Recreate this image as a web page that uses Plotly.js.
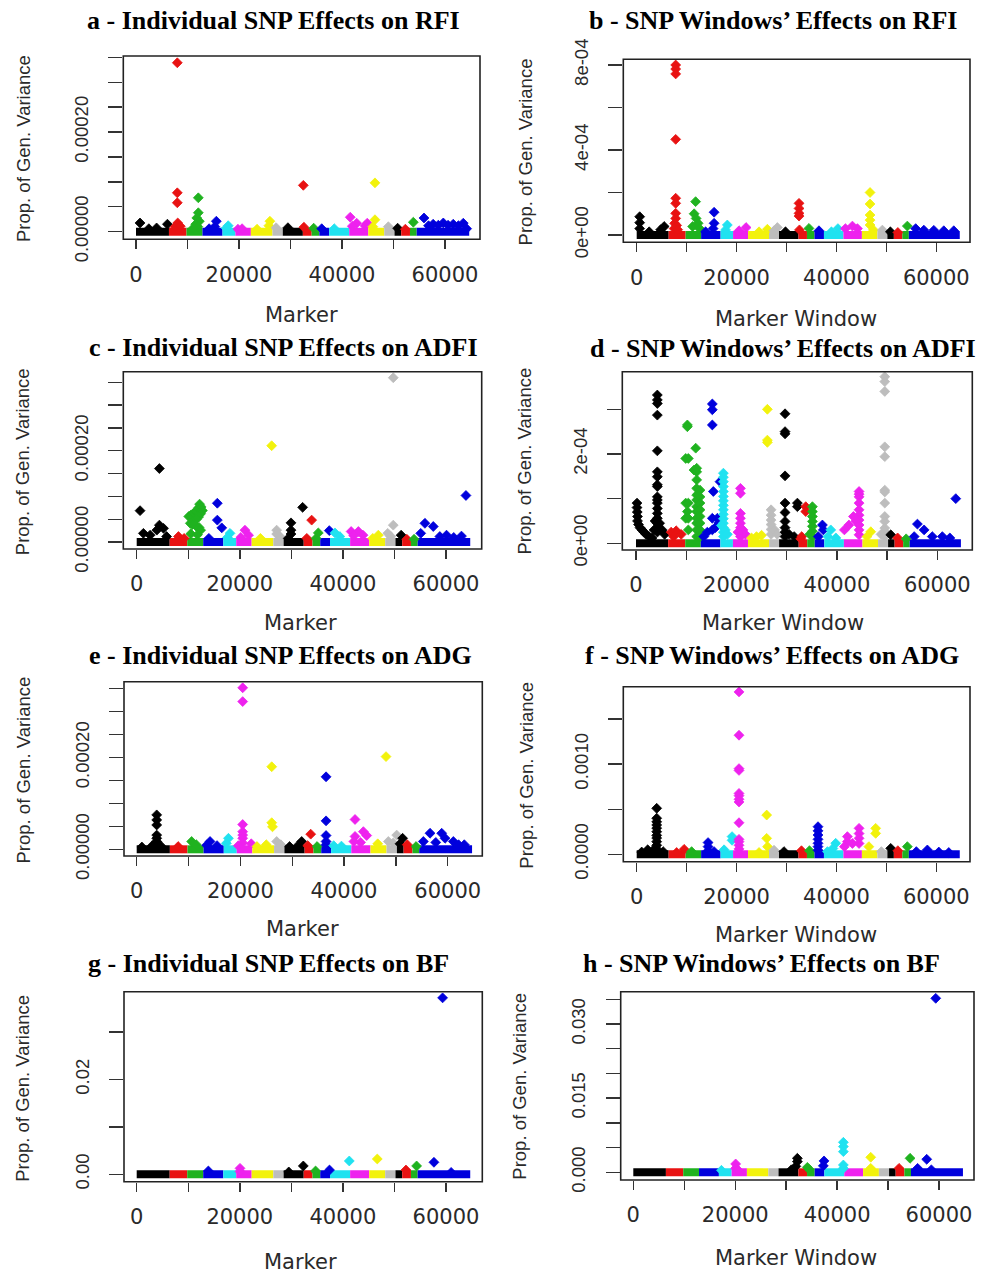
<!DOCTYPE html>
<html><head><meta charset="utf-8">
<script src="https://cdn.plot.ly/plotly-3.0.1.min.js"></script>
<style>html,body{margin:0;padding:0;background:#fff}#chart{width:988px;height:1273px}</style>
</head><body><div id="chart"></div>
<script>
// Chromosome boundaries (marker index) and R-style colour cycle
const chrEdges = [0, 6400, 9800, 12900, 16800, 19300, 22300, 26500, 28500, 32400, 34100, 35600, 37500, 41400, 45100, 48200, 50200, 51500, 53200, 54500, 64700];
const palette = ['#000000', '#E81212', '#1FB21F', '#0000DC', '#20E2F0', '#EE22EE', '#F2F20C', '#BDBDBD'];

// Tick values / labels
const xTickVals = [0, 10000, 20000, 30000, 40000, 50000, 60000];
const xTickText = ['0', '', '20000', '', '40000', '', '60000'];
const indivTickVals = [0, 5e-5, 1e-4, 1.5e-4, 2e-4, 2.5e-4, 3e-4, 3.5e-4];
const indivTickText = ['0.00000', '', '', '', '0.00020', '', '', ''];
const bTickVals = [0, 2e-4, 4e-4, 6e-4, 8e-4];
const bTickText = ['0e+00', '', '4e-04', '', '8e-04'];
const dTickVals = [0, 1e-4, 2e-4, 3e-4];
const dTickText = ['0e+00', '', '2e-04', ''];
const fTickVals = [0, 5e-4, 1e-3, 1.5e-3];
const fTickText = ['0.0000', '', '0.0010', ''];
const gTickVals = [0, 0.01, 0.02, 0.03];
const gTickText = ['0.00', '', '0.02', ''];
const hTickVals = [0, 0.005, 0.01, 0.015, 0.02, 0.025, 0.03, 0.035];
const hTickText = ['0.000', '', '', '0.015', '', '', '0.030', ''];

const titles = ['a - Individual SNP Effects on RFI', 'b - SNP Windows\u2019 Effects on RFI',
  'c - Individual SNP Effects on ADFI', 'd - SNP Windows\u2019 Effects on ADFI',
  'e - Individual SNP Effects on ADG', 'f - SNP Windows\u2019 Effects on ADG',
  'g - Individual SNP Effects on BF', 'h - SNP Windows\u2019 Effects on BF'];
const xTitles = ['Marker', 'Marker Window', 'Marker', 'Marker Window', 'Marker', 'Marker Window', 'Marker', 'Marker Window'];
const yTitle = 'Prop. of Gen. Variance';

// Elevated points [marker, proportion of genetic variance]; the rest lie on the ~0 baseline
const aPts = [[780,1.75e-5],[2500,0.6e-5],[4000,0.75e-5],[6100,1.5e-5],
 [8020,33.9e-5],[8020,7.8e-5],[8020,5.8e-5],[8100,1.75e-5],[7600,1.0e-5],[8600,1.1e-5],
 [12100,6.8e-5],[12100,3.8e-5],[11800,2.75e-5],[12300,2.1e-5],[11600,1.5e-5],[12000,1.0e-5],[11200,0.8e-5],
 [15600,2.1e-5],[15300,1.0e-5],[14200,0.6e-5],[17900,1.2e-5],[17500,0.7e-5],[19800,0.5e-5],[20600,0.6e-5],
 [26000,2.1e-5],[25800,1.2e-5],[23500,0.5e-5],[27200,0.8e-5],[29500,0.8e-5],[32490,9.3e-5],[32600,0.9e-5],
 [34500,0.7e-5],[36060,0.6e-5],[38500,0.6e-5],[41600,2.9e-5],[42850,1.7e-5],[42000,1.1e-5],[44470,1.2e-5],[44900,1.7e-5],
 [46400,9.8e-5],[46400,2.4e-5],[46000,1.0e-5],[49000,1.0e-5],[50800,0.7e-5],[52300,0.5e-5],[53850,1.9e-5],
 [55920,2.75e-5],[56800,1.2e-5],[57700,1.5e-5],[58700,1.3e-5],[59670,1.75e-5],[60600,1.3e-5],[61600,1.5e-5],[62600,1.2e-5],[63550,1.7e-5],[64200,0.6e-5]];

const bPts = [[600,0.86e-4],[600,0.58e-4],[600,0.3e-4],[2500,0.15e-4],[4800,0.25e-4],[5500,0.4e-4],
 [7810,8.0e-4],[7810,7.81e-4],[7810,7.58e-4],[7810,4.5e-4],[7810,1.73e-4],[7810,1.49e-4],[7810,1.02e-4],[7810,0.78e-4],[7600,0.55e-4],[8000,0.45e-4],[7500,0.3e-4],[8200,0.25e-4],
 [11800,1.57e-4],[11500,1.0e-4],[11900,0.78e-4],[12300,0.55e-4],[11200,0.4e-4],[12600,0.3e-4],
 [15500,1.07e-4],[15500,0.55e-4],[15300,0.3e-4],[13800,0.15e-4],[18150,0.47e-4],[17800,0.24e-4],
 [21900,0.35e-4],[20500,0.2e-4],[26170,0.27e-4],[24500,0.15e-4],[28170,0.35e-4],[27500,0.2e-4],[29800,0.15e-4],
 [32510,1.49e-4],[32510,1.25e-4],[32510,1.02e-4],[32510,0.89e-4],[32600,0.24e-4],[34500,0.31e-4],[36500,0.2e-4],
 [40300,0.3e-4],[39000,0.15e-4],[43200,0.42e-4],[41800,0.3e-4],[44200,0.3e-4],
 [46730,2.0e-4],[46730,1.46e-4],[46730,0.94e-4],[46730,0.7e-4],[46730,0.47e-4],[47400,0.24e-4],
 [49200,0.23e-4],[50800,0.15e-4],[52300,0.12e-4],[54200,0.42e-4],
 [55870,0.3e-4],[57500,0.23e-4],[59500,0.22e-4],[61500,0.2e-4],[63500,0.2e-4]];

const cPts = [[650,6.87e-5],[4400,16.1e-5],[4400,3.7e-5],[5200,3.0e-5],[3900,2.6e-5],[1300,1.9e-5],[2600,1.5e-5],[5800,1.2e-5],
 [8100,1.2e-5],[9200,0.8e-5],
 [10100,5.6e-5],[10500,5.9e-5],[11000,6.3e-5],[11500,6.7e-5],[12000,7.5e-5],[12200,8.3e-5],[12500,7.7e-5],[12750,6.9e-5],[12400,6.2e-5],[12000,5.5e-5],[11600,5.0e-5],[10900,4.4e-5],[10400,4.1e-5],[10800,3.8e-5],[11500,3.5e-5],[12100,3.2e-5],[12400,2.6e-5],[10500,1.8e-5],[11800,1.6e-5],
 [15640,8.5e-5],[15640,4.8e-5],[16500,3.1e-5],[14000,0.8e-5],[18100,1.9e-5],[17600,1.0e-5],
 [21000,2.6e-5],[21700,1.5e-5],[20200,1.0e-5],[26180,21.1e-5],[24000,0.8e-5],
 [27150,2.6e-5],[27150,1.75e-5],[27800,1.2e-5],
 [29930,4.2e-5],[29930,2.6e-5],[29930,1.75e-5],[29400,0.8e-5],[32190,7.6e-5],
 [33940,4.8e-5],[33000,0.8e-5],[35230,2.0e-5],[34800,0.8e-5],[37360,2.5e-5],[38460,2.0e-5],[39400,1.2e-5],
 [41600,2.3e-5],[43000,2.3e-5],[43900,1.5e-5],[42100,1.4e-5],[46870,1.5e-5],[45800,0.8e-5],
 [49770,36.0e-5],[49770,3.7e-5],[48700,1.9e-5],[49300,1.2e-5],[51300,1.5e-5],[52400,0.6e-5],[53800,0.6e-5],
 [55910,4.1e-5],[57530,3.4e-5],[55100,1.9e-5],[58800,1.2e-5],[60100,1.5e-5],[61500,1.0e-5],[63000,1.3e-5],[63870,10.2e-5]];

const dPts = [[200,0.9e-4],[200,0.8e-4],[250,0.7e-4],[300,0.6e-4],[300,0.5e-4],[500,0.42e-4],[800,0.35e-4],[1200,0.3e-4],[1600,0.25e-4],[2000,0.2e-4],[2600,0.15e-4],[3200,0.12e-4],
 [4250,3.32e-4],[4250,3.21e-4],[4250,3.13e-4],[4250,2.87e-4],[4250,2.07e-4],[4250,1.6e-4],[4250,1.49e-4],[4250,1.31e-4],[4250,1.27e-4],[4250,1.04e-4],[4250,0.97e-4],[4250,0.9e-4],[4250,0.78e-4],[4250,0.67e-4],[4250,0.56e-4],[4250,0.45e-4],[4250,0.35e-4],[4250,0.25e-4],
 [3800,0.5e-4],[3600,0.3e-4],[4700,0.45e-4],[5200,0.3e-4],[5700,0.2e-4],
 [7000,0.25e-4],[8000,0.28e-4],[9000,0.2e-4],[7500,0.15e-4],
 [10230,2.65e-4],[10230,2.61e-4],[9900,1.9e-4],[9900,0.9e-4],[10230,0.71e-4],[9900,0.56e-4],
 [10420,1.9e-4],[10420,0.9e-4],[10420,0.56e-4],[10420,0.3e-4],
 [11890,2.13e-4],[11550,1.64e-4],[12085,1.68e-4],[12085,1.6e-4],[12085,1.42e-4],[12085,1.23e-4],[12085,1.08e-4],[12085,0.97e-4],[12085,0.82e-4],[12085,0.71e-4],[12085,0.56e-4],[12085,0.45e-4],[12085,0.3e-4],[12085,0.15e-4],
 [12750,1.19e-4],[12750,1.04e-4],[12750,0.9e-4],[12750,0.75e-4],[12750,0.6e-4],[12750,0.45e-4],[12750,0.3e-4],[12750,0.15e-4],
 [15200,3.12e-4],[15200,2.99e-4],[15200,2.65e-4],[15400,1.16e-4],[15200,0.56e-4],[15200,0.3e-4],[16730,1.38e-4],[16200,0.56e-4],[16500,0.45e-4],[14200,0.25e-4],[13500,0.15e-4],[15800,0.35e-4],
 [17400,1.57e-4],[17400,1.48e-4],[17400,1.38e-4],[17400,1.27e-4],[17400,1.16e-4],[17400,1.05e-4],[17400,0.95e-4],[17400,0.85e-4],[17400,0.75e-4],[17400,0.65e-4],[17400,0.55e-4],[17400,0.45e-4],[17400,0.35e-4],[17400,0.25e-4],[17400,0.15e-4],[17800,0.3e-4],[18200,0.2e-4],[17000,0.4e-4],
 [20800,1.23e-4],[20800,1.12e-4],[20800,0.67e-4],[20800,0.56e-4],[20800,0.45e-4],[20800,0.35e-4],[20800,0.25e-4],[20800,0.15e-4],[21300,0.3e-4],[21800,0.2e-4],[20300,0.25e-4],
 [26160,3.0e-4],[26160,2.31e-4],[26160,2.26e-4],[24000,0.15e-4],[25000,0.18e-4],[23000,0.12e-4],
 [26900,0.75e-4],[26900,0.63e-4],[26900,0.52e-4],[26900,0.42e-4],[26900,0.31e-4],[26900,0.2e-4],[27600,0.3e-4],[28100,0.2e-4],
 [29680,2.9e-4],[29680,2.5e-4],[29680,2.45e-4],[29680,1.51e-4],[29680,0.9e-4],[29680,0.69e-4],[29680,0.49e-4],[29680,0.35e-4],[29680,0.25e-4],[29680,0.15e-4],[32140,0.9e-4],[32140,0.82e-4],[30500,0.2e-4],[31500,0.15e-4],
 [33800,0.82e-4],[33800,0.71e-4],[33000,0.15e-4],[32800,0.1e-4],
 [35130,0.82e-4],[35130,0.71e-4],[35130,0.6e-4],[35130,0.49e-4],[35130,0.38e-4],[35130,0.27e-4],[35130,0.15e-4],[34600,0.2e-4],
 [37120,0.41e-4],[37300,0.3e-4],[36300,0.15e-4],[38780,0.3e-4],[38200,0.15e-4],[39800,0.12e-4],
 [44420,1.16e-4],[44420,1.1e-4],[44420,1.04e-4],[44420,0.9e-4],[44420,0.75e-4],[44420,0.63e-4],[44420,0.52e-4],[44420,0.41e-4],[44420,0.3e-4],[44420,0.19e-4],[43300,0.6e-4],[42400,0.41e-4],[41500,0.3e-4],[43800,0.5e-4],
 [46750,0.26e-4],[46000,0.15e-4],
 [49540,3.73e-4],[49540,3.62e-4],[49540,3.4e-4],[49540,2.16e-4],[49540,1.94e-4],[49540,1.19e-4],[49540,1.15e-4],[49540,0.9e-4],[49540,0.6e-4],[49540,0.49e-4],[49540,0.34e-4],[49540,0.26e-4],[49540,0.15e-4],[48800,0.2e-4],
 [50730,0.19e-4],[52100,0.12e-4],[53800,0.1e-4],
 [56040,0.43e-4],[57370,0.3e-4],[55400,0.15e-4],[59000,0.15e-4],[61000,0.15e-4],[62500,0.12e-4],[63680,1.0e-4]];

const ePts = [[3860,7.5e-5],[3860,6.4e-5],[3860,5.3e-5],[3860,3.1e-5],[3860,2.4e-5],[3860,1.7e-5],[3860,1.0e-5],[3000,0.8e-5],[4600,0.8e-5],[1000,0.5e-5],
 [8000,0.6e-5],[10600,1.7e-5],[11500,1.0e-5],[14150,1.7e-5],[13500,0.9e-5],[15500,0.8e-5],[17700,2.4e-5],[17300,1.3e-5],
 [20450,35.2e-5],[20450,32.2e-5],[20450,5.4e-5],[20450,3.85e-5],[20450,3.1e-5],[20450,2.4e-5],[20450,1.4e-5],[22100,1.2e-5],[19600,0.8e-5],
 [26050,18.0e-5],[26050,5.8e-5],[26200,4.9e-5],[25000,1.0e-5],[23200,0.6e-5],[27010,1.7e-5],[27800,1.0e-5],
 [29500,0.6e-5],[31830,1.7e-5],[31200,0.9e-5],[33570,3.3e-5],[33000,0.8e-5],[34800,0.6e-5],
 [36530,15.8e-5],[36530,6.2e-5],[36530,3.0e-5],[36530,1.7e-5],[36530,1.0e-5],[38000,0.8e-5],[39500,0.7e-5],
 [42120,6.5e-5],[42120,2.8e-5],[43730,3.85e-5],[44370,3.0e-5],[43200,1.5e-5],[41900,1.7e-5],
 [48100,20.2e-5],[46500,1.2e-5],[48550,1.7e-5],[50160,3.1e-5],[49500,1.4e-5],[51300,2.4e-5],[50800,1.2e-5],[52200,1.0e-5],[53900,0.6e-5],
 [56590,3.5e-5],[58840,3.5e-5],[59490,2.4e-5],[55300,1.7e-5],[61090,1.7e-5],[63200,1.0e-5],[57700,1.5e-5],[62100,1.0e-5]];

const fPts = [[4005,5.1e-4],[4005,4.0e-4],[4005,3.6e-4],[4005,3.25e-4],[4005,2.9e-4],[4005,2.5e-4],[4005,2.1e-4],[4005,1.8e-4],[4005,1.4e-4],[4005,1.0e-4],[4005,0.6e-4],[2200,0.5e-4],[3200,0.4e-4],[5300,0.3e-4],[1000,0.25e-4],
 [9500,0.55e-4],[8000,0.2e-4],[11000,0.3e-4],[14290,1.3e-4],[14290,0.85e-4],[14290,0.4e-4],[15500,0.3e-4],
 [17500,0.5e-4],[19100,1.96e-4],[19100,1.55e-4],
 [20490,18.0e-4],[20490,13.2e-4],[20490,9.5e-4],[20490,9.3e-4],[20490,6.75e-4],[20490,6.5e-4],[20490,6.1e-4],[20490,5.8e-4],[20490,3.5e-4],[20490,1.66e-4],[20490,1.4e-4],[20490,1.0e-4],[20490,0.6e-4],
 [26030,4.35e-4],[26030,1.77e-4],[26200,0.85e-4],[24500,0.2e-4],[27500,0.45e-4],[29500,0.3e-4],[33000,0.4e-4],[34600,0.4e-4],
 [36310,3.06e-4],[36310,2.6e-4],[36310,2.14e-4],[36310,1.66e-4],[36310,1.22e-4],[36310,0.85e-4],[36310,0.45e-4],
 [39850,1.22e-4],[39300,0.65e-4],[38200,0.3e-4],
 [44530,2.88e-4],[44530,2.3e-4],[44530,1.77e-4],[44530,1.2e-4],[42190,1.96e-4],[42190,1.4e-4],[43200,1.2e-4],[41600,0.85e-4],
 [47860,2.88e-4],[47860,2.32e-4],[46500,0.85e-4],[49000,0.3e-4],[50870,0.66e-4],[52300,0.4e-4],[54200,0.85e-4],
 [58210,0.48e-4],[56000,0.3e-4],[60500,0.25e-4],[62500,0.2e-4]];

const gPts = [[13900,0.7e-3],[20040,1.26e-3],[20040,0.6e-3],[29500,0.5e-3],[32320,1.76e-3],[34700,0.7e-3],[37400,0.9e-3],
 [41240,2.81e-3],[46670,3.23e-3],[52230,0.9e-3],[54300,1.76e-3],[57660,2.53e-3],[59340,37.2e-3],[61000,0.4e-3]];

const hPts = [[17300,0.4e-3],[20090,1.69e-3],[20090,0.81e-3],[20600,0.4e-3],[32200,2.83e-3],[32200,2.16e-3],[31900,1.2e-3],[31000,0.5e-3],
 [34160,1.0e-3],[34500,0.6e-3],[37430,2.3e-3],[37300,1.3e-3],
 [41230,6.07e-3],[41230,5.2e-3],[41230,4.18e-3],[41230,1.48e-3],[41230,0.8e-3],
 [46600,3.04e-3],[46600,0.8e-3],[52160,0.8e-3],[54320,2.83e-3],[55800,0.8e-3],[57590,2.63e-3],[58500,0.5e-3],[59360,35.2e-3]];

// ---------- layout (pixel geometry of each panel) ----------
const W = 988, H = 1273;
const panels = [
  {pts: aPts, box: [123.3, 480, 56, 239.3], xr: [-2466, 66796], yr: [-1.53e-5, 3.526e-4], tv: indivTickVals, tt: indivTickText,
   title: [273.5, 21], xt: [301, 315], yt: [23, 149]},
  {pts: bPts, box: [623.3, 970, 59.3, 242.3], xr: [-2684, 66749], yr: [-3.44e-5, 8.268e-4], tv: bTickVals, tt: bTickText,
   title: [773, 21], xt: [795.7, 319.3], yt: [525.7, 151.7]},
  {pts: cPts, box: [123.3, 481.7, 371.7, 549], xr: [-2599, 66925], yr: [-1.53e-5, 3.732e-4], tv: indivTickVals, tt: indivTickText,
   title: [283, 347], xt: [300.8, 623.3], yt: [22.5, 461.7]},
  {pts: dPts, box: [622.3, 972.3, 371.7, 550], xr: [-2728, 66969], yr: [-1.5e-5, 3.842e-4], tv: dTickVals, tt: dTickText,
   title: [783, 348], xt: [783.2, 623.3], yt: [524.8, 460.8]},
  {pts: ePts, box: [124, 482.3, 681.7, 856], xr: [-2450, 66675], yr: [-1.46e-5, 3.653e-4], tv: indivTickVals, tt: indivTickText,
   title: [280, 655], xt: [302.5, 929.3], yt: [22.5, 770]},
  {pts: fPts, box: [623.3, 970, 686.7, 861.7], xr: [-2684, 66749], yr: [-8.2e-5, 1.858e-3], tv: fTickVals, tt: fTickText,
   title: [772, 655], xt: [795.7, 935], yt: [525.7, 775]},
  {pts: gPts, box: [124, 482.3, 991.7, 1181.7], xr: [-2464, 67042], yr: [-1.56e-3, 3.85e-2], tv: gTickVals, tt: gTickText,
   title: [268, 963], xt: [300.8, 1261.7], yt: [22.5, 1088.3]},
  {pts: hPts, box: [620.7, 974, 991.7, 1180], xr: [-2473, 66869], yr: [-1.56e-3, 3.654e-2], tv: hTickVals, tt: hTickText,
   title: [761, 963], xt: [795.7, 1258.3], yt: [520, 1086.7]}
];

function chrIndex(x) {
  for (let i = 0; i < chrEdges.length - 1; i++) if (x < chrEdges[i + 1]) return i;
  return chrEdges.length - 2;
}

const txtColor = '#2a2a2a';
const traces = [];
const layout = {
  width: W, height: H, margin: {l: 0, r: 0, t: 0, b: 0},
  paper_bgcolor: '#fff', plot_bgcolor: '#fff', showlegend: false,
  shapes: [], annotations: []
};

panels.forEach((p, k) => {
  const s = k === 0 ? '' : String(k + 1);
  const xa = 'x' + s, ya = 'y' + s;
  // baseline bands (dense near-zero markers) per chromosome
  for (let i = 0; i < chrEdges.length - 1; i++) {
    traces.push({type: 'scatter', mode: 'lines', x: [chrEdges[i], chrEdges[i + 1]], y: [0, 0],
      xaxis: xa, yaxis: ya, hoverinfo: 'skip',
      line: {color: palette[i % palette.length], width: 8}});
  }
  const cols = p.pts.map(q => palette[chrIndex(q[0]) % palette.length]);
  traces.push({type: 'scatter', mode: 'markers', xaxis: xa, yaxis: ya,
    x: p.pts.map(q => q[0]), y: p.pts.map(q => q[1]),
    marker: {symbol: 'diamond', size: 7.6, color: cols, line: {width: 0.8, color: cols}}});

  const [l, r, t, b] = p.box;
  layout['xaxis' + s] = {
    domain: [l / W, r / W], range: p.xr, anchor: ya, showgrid: false, zeroline: false, showline: false,
    ticks: 'outside', ticklen: 9, tickwidth: 1.4, tickcolor: '#333',
    tickmode: 'array', tickvals: xTickVals, ticktext: xTickText, ticklabelstandoff: 7,
    tickfont: {family: 'DejaVu Sans', size: 21, color: txtColor}, fixedrange: true
  };
  layout['yaxis' + s] = {
    domain: [1 - b / H, 1 - t / H], range: p.yr, anchor: xa, showgrid: false, zeroline: false, showline: false,
    ticks: 'outside', ticklen: 14, tickwidth: 1.4, tickcolor: '#333',
    tickmode: 'array', tickvals: p.tv, ticktext: p.tt, tickangle: -90, ticklabelstandoff: 13,
    tickfont: {family: 'Liberation Sans, Arial', size: 18.5, color: txtColor}, fixedrange: true
  };
  layout.shapes.push({type: 'rect', xref: xa + ' domain', yref: ya + ' domain', x0: 0, x1: 1, y0: 0, y1: 1,
    line: {color: '#222', width: 1.6}, layer: 'above'});
  layout.annotations.push({text: '<b>' + titles[k] + '</b>', xref: 'paper', yref: 'paper',
    x: p.title[0] / W, y: 1 - p.title[1] / H, xanchor: 'center', yanchor: 'middle', showarrow: false,
    font: {family: 'Liberation Serif, Times New Roman', size: 26, color: '#000'}});
  layout.annotations.push({text: xTitles[k], xref: 'paper', yref: 'paper',
    x: p.xt[0] / W, y: 1 - p.xt[1] / H, xanchor: 'center', yanchor: 'middle', showarrow: false,
    font: {family: 'DejaVu Sans', size: 21, color: txtColor}});
  layout.annotations.push({text: yTitle, xref: 'paper', yref: 'paper', textangle: -90,
    x: p.yt[0] / W, y: 1 - p.yt[1] / H, xanchor: 'center', yanchor: 'middle', showarrow: false,
    font: {family: 'Liberation Sans, Arial', size: 18.5, color: txtColor}});
});

Plotly.newPlot('chart', traces, layout, {staticPlot: true, displayModeBar: false});
</script>
</body></html>
